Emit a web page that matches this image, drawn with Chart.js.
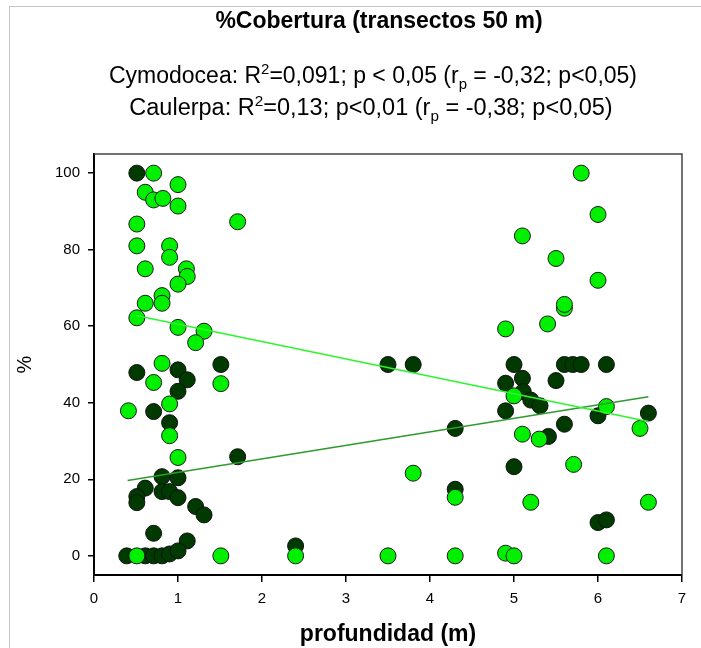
<!DOCTYPE html>
<html>
<head>
<meta charset="utf-8">
<title>%Cobertura</title>
<script src="https://cdn.jsdelivr.net/npm/chart.js@4.4.1/dist/chart.umd.min.js"></script>
<style>
    body { margin: 0; background: #fff; }
    #wrap { position: relative; width: 701px; height: 648px; overflow: hidden; font-family: "Liberation Sans", Arial, sans-serif; color: #000; }
    #frame { position: absolute; left: 9px; top: 6px; right: 0; bottom: 0; border-left: 1px solid #c4c4c4; border-top: 1px solid #c4c4c4; }
    #chart { position: absolute; left: 0; top: 0; }
    .head { position: absolute; left: 0; text-align: center; white-space: nowrap; }
    .head sup, .head sub { font-size: 65%; line-height: 0; }
    #title { top: 7px; width: 758px; font-size: 23px; font-weight: bold; }
    #stat1 { top: 62px; width: 746px; font-size: 23px; }
    #stat2 { top: 94px; width: 742px; font-size: 23.5px; }
</style>
</head>
<body>
<div id="wrap">
    <div id="frame"></div>
    <canvas id="chart" width="701" height="648"></canvas>
    <div class="head" id="title">%Cobertura (transectos 50 m)</div>
    <div class="head" id="stat1">Cymodocea: R<sup>2</sup>=0,091; p &lt; 0,05 (r<sub>p</sub> = -0,32; p&lt;0,05)</div>
    <div class="head" id="stat2">Caulerpa: R<sup>2</sup>=0,13; p&lt;0,01 (r<sub>p</sub> = -0,38; p&lt;0,05)</div>
</div>

<script>
// Cymodocea cover (%) by depth (m) - dark markers
const cymoDepth = [0.51, 0.51, 1.0, 1.51, 1.11, 1.0, 0.71, 0.9, 1.71, 0.81, 1.0, 0.61, 0.51, 0.51, 0.81, 0.9, 1.0, 1.21, 1.31, 0.71, 1.11,
    0.39, 0.61, 0.71, 0.81, 0.9, 1.0, 2.4, 3.5, 3.8, 4.3, 4.3,
    5.0, 5.6, 5.7, 5.8, 6.1, 5.1, 4.9, 5.5, 5.11, 5.2, 5.31, 4.9, 6.0, 6.6, 5.6, 5.41, 5.0, 6.0, 6.1];
const cymoCover = [100, 47.9, 48.6, 50, 46, 43, 37.7, 34.8, 25.9, 20.7, 20.4, 17.7, 15.5, 13.9, 16.8, 16.8, 15.2, 12.9, 10.7, 5.9, 3.9,
    0, 0, 0, 0, 0.5, 1.3, 2.6, 50, 50, 33.3, 17.4,
    50, 50, 50, 50, 50, 46.4, 45.1, 45.8, 42.9, 40.7, 39.2, 37.9, 36.6, 37.3, 34.4, 31.2, 23.3, 8.7, 9.4];

// Caulerpa cover (%) by depth (m) - bright markers
const caulDepth = [0.71, 1.0, 0.61, 0.71, 0.82, 1.0, 0.51, 1.71, 0.51, 0.9, 0.9, 0.61, 1.1, 1.11, 1.0, 0.81, 0.61, 0.81, 0.51, 1.0, 1.31, 1.21,
    0.81, 0.71, 1.51, 0.9, 0.41, 0.9, 1.0, 0.51, 1.51, 2.4, 3.5, 4.3, 3.8, 4.3,
    5.8, 6.0, 5.1, 5.5, 6.0, 5.6, 5.6, 5.4, 4.9, 5.0, 6.1, 6.5, 5.1, 5.3, 5.71, 5.2, 6.6, 4.9, 5.0, 6.1];
const caulCover = [100, 97, 95, 93, 93.4, 91.4, 86.7, 87.3, 81, 81, 78, 75, 75, 73, 71, 68, 66, 66, 62.2, 59.7, 58.7, 55.7,
    50.3, 45.3, 45, 39.7, 37.9, 31.4, 25.7, 0, 0, 0, 0, 0, 21.6, 15.3,
    100, 89.2, 83.6, 77.7, 72, 64.7, 65.7, 60.6, 59.3, 41.8, 39, 33.3, 31.8, 30.5, 23.9, 14, 14, 0.7, 0, 0];

// fitted regression lines (end points)
const cymoFitDepth = [0.4, 6.6];
const cymoFitCover = [19.7, 41.6];
const caulFitDepth = [0.5, 6.6];
const caulFitCover = [62.8, 35.1];

const xTickValues = [0, 1, 2, 3, 4, 5, 6, 7];
const yTickValues = [0, 20, 40, 60, 80, 100];

const toPoints = (xs, ys) => xs.map((x, i) => ({ x: x, y: ys[i] }));

// top and right edges of the plot box
const boxPlugin = {
    id: 'box',
    afterDraw(chart) {
        const { ctx, chartArea: a } = chart;
        ctx.save();
        ctx.strokeStyle = '#444';
        ctx.lineWidth = 1.5;
        ctx.beginPath();
        ctx.moveTo(a.left, a.top);
        ctx.lineTo(a.right, a.top);
        ctx.lineTo(a.right, a.bottom);
        ctx.stroke();
        ctx.restore();
    }
};

const tickFont = { family: '"Liberation Sans", Arial, sans-serif', size: 15 };

new Chart(document.getElementById('chart'), {
    type: 'scatter',
    data: {
        datasets: [
            {
                label: 'Caulerpa (ajuste)',
                type: 'line',
                data: toPoints(caulFitDepth, caulFitCover),
                borderColor: '#2df52d',
                borderWidth: 1.5,
                pointRadius: 0,
                fill: false,
                order: 0
            },
            {
                label: 'Cymodocea (ajuste)',
                type: 'line',
                data: toPoints(cymoFitDepth, cymoFitCover),
                borderColor: '#2f9a2f',
                borderWidth: 1.5,
                pointRadius: 0,
                fill: false,
                order: 0
            },
            {
                label: 'Caulerpa',
                data: toPoints(caulDepth, caulCover),
                backgroundColor: '#00f000',
                borderColor: '#1a1a1a',
                borderWidth: 1,
                pointRadius: 8,
                order: 1
            },
            {
                label: 'Cymodocea',
                data: toPoints(cymoDepth, cymoCover),
                backgroundColor: '#003a00',
                borderColor: '#111',
                borderWidth: 1,
                pointRadius: 8,
                order: 2
            }
        ]
    },
    options: {
        responsive: false,
        animation: false,
        layout: { padding: { left: 0, right: 19, top: 154, bottom: 0 } },
        plugins: {
            legend: { display: false },
            tooltip: { enabled: false }
        },
        scales: {
            x: {
                type: 'linear',
                min: 0,
                max: 7,
                afterBuildTicks: s => { s.ticks = xTickValues.map(v => ({ value: v })); },
                afterFit: s => { s.height = 73; },
                ticks: { font: tickFont, color: '#000', padding: 8, maxRotation: 0 },
                grid: { drawOnChartArea: false, drawTicks: true, tickLength: 7, color: '#000', lineWidth: 1.5 },
                border: { color: '#000', width: 2 },
                title: {
                    display: true,
                    text: 'profundidad (m)',
                    color: '#000',
                    font: { family: '"Liberation Sans", Arial, sans-serif', size: 23, weight: 'bold' },
                    padding: { top: 0, bottom: 0 }
                }
            },
            y: {
                type: 'linear',
                min: -5,
                max: 105,
                afterBuildTicks: s => { s.ticks = yTickValues.map(v => ({ value: v })); },
                afterFit: s => { s.width = 94; },
                ticks: { font: tickFont, color: '#000', padding: 8 },
                grid: { drawOnChartArea: false, drawTicks: true, tickLength: 6, color: '#000', lineWidth: 1.5 },
                border: { color: '#000', width: 2 },
                title: {
                    display: true,
                    text: '%',
                    color: '#000',
                    font: { family: '"Liberation Sans", Arial, sans-serif', size: 20 },
                    padding: { top: 13, bottom: 0 }
                }
            }
        }
    },
    plugins: [boxPlugin]
});
</script>
</body>
</html>
